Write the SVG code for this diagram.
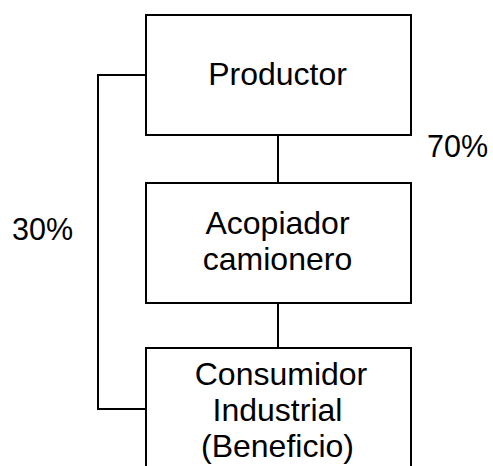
<svg xmlns="http://www.w3.org/2000/svg" width="493" height="466" viewBox="0 0 493 466">
  <style>
    .box { fill: #ffffff; stroke: #000000; stroke-width: 2; }
    .wire { fill: none; stroke: #000000; stroke-width: 2; }
    .lbl { font-family: "Liberation Sans", Arial, sans-serif; font-size: 32px; fill: #000000; text-anchor: middle; }
    .pct { font-family: "Liberation Sans", Arial, sans-serif; font-size: 30.5px; fill: #000000; }
  </style>
  <rect width="493" height="466" fill="#ffffff"/>
  <g id="connectors">
    <line class="wire" x1="278" y1="135" x2="278" y2="183"/>
    <line class="wire" x1="278" y1="303" x2="278" y2="348"/>
    <polyline class="wire" points="146,75 98,75 98,409 146,409"/>
  </g>
  <g id="productor">
    <rect class="box" x="146" y="15" width="265" height="120"/>
    <text class="lbl" x="277.5" y="85">Productor</text>
  </g>
  <g id="acopiador">
    <rect class="box" x="146" y="183" width="265" height="120"/>
    <text class="lbl" x="277.5" y="234">Acopiador</text>
    <text class="lbl" x="277.5" y="270">camionero</text>
  </g>
  <g id="consumidor">
    <rect class="box" x="146" y="348" width="265" height="130"/>
    <text class="lbl" x="281" y="385">Consumidor</text>
    <text class="lbl" x="277.5" y="421">Industrial</text>
    <text class="lbl" x="277.5" y="457">(Beneficio)</text>
  </g>
  <g id="labels">
    <text class="pct" x="12" y="240">30%</text>
    <text class="pct" x="427" y="157">70%</text>
  </g>
</svg>
